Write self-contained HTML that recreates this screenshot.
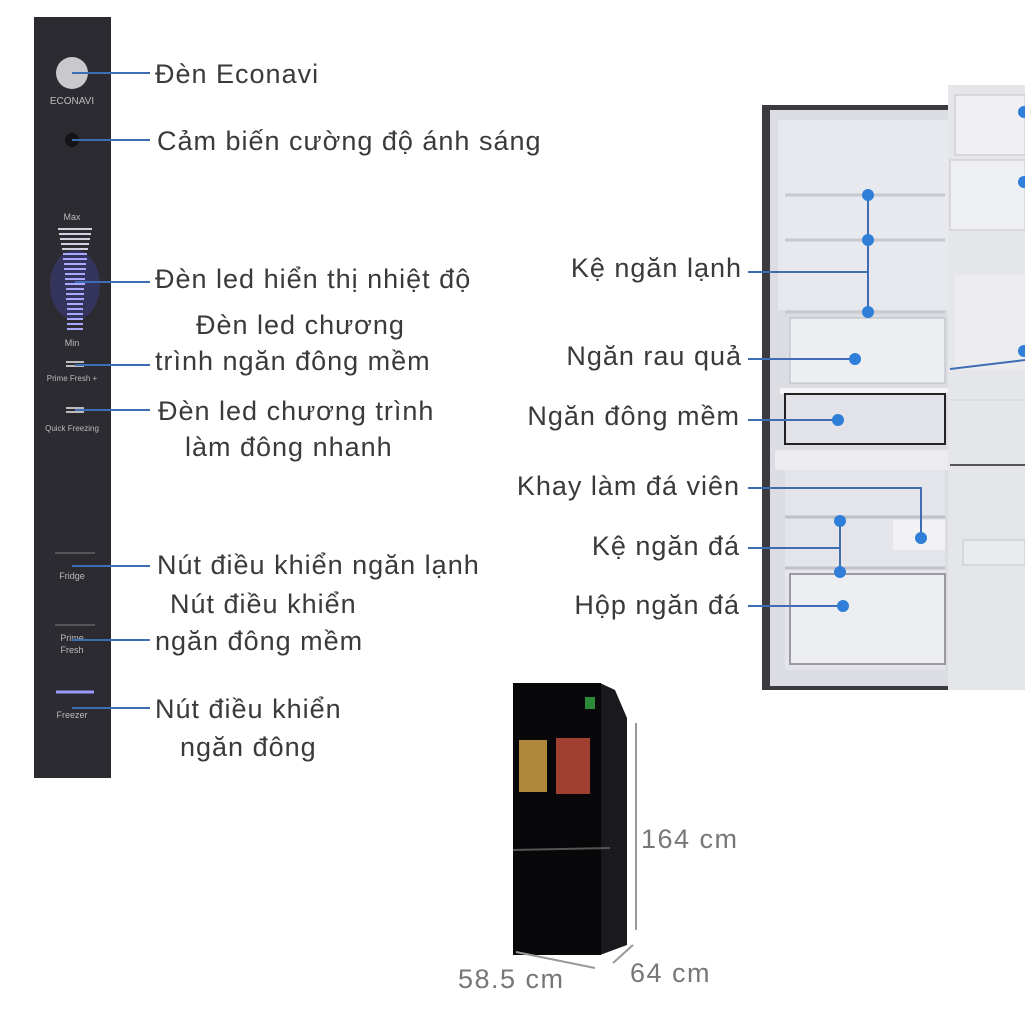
<!DOCTYPE html>
<html><head><meta charset="utf-8"><style>
body{margin:0;background:#fff}
svg{display:block}
text{font-family:"Liberation Sans",sans-serif;fill:#3a3a3a}
.l{font-size:27px;letter-spacing:1px}
.s{font-size:9px;fill:#bbb}
</style></head><body>
<svg width="1025" height="1025" viewBox="0 0 1025 1025">
<rect x="34" y="17" width="77" height="761" fill="#2c2b31"/>
<circle cx="72" cy="73" r="16" fill="#c9c9cc"/>
<text x="72" y="104" class="s" text-anchor="middle" style="font-size:10px">ECONAVI</text>
<circle cx="72" cy="140" r="7" fill="#151518"/>
<text x="72" y="220" class="s" text-anchor="middle">Max</text>
<g stroke="#d0d0e0" stroke-width="2">
<line x1="58" y1="229" x2="92" y2="229"/><line x1="59" y1="234" x2="91" y2="234"/><line x1="60" y1="239" x2="90" y2="239"/><line x1="61" y1="244" x2="89" y2="244"/><line x1="62" y1="249" x2="88" y2="249"/>
</g>
<ellipse cx="75" cy="285" rx="25" ry="35" fill="#3a3a7a" opacity="0.6"/>
<g stroke="#a8a8ff" stroke-width="2">
<line x1="63" y1="254" x2="87" y2="254"/><line x1="63" y1="259" x2="87" y2="259"/><line x1="64" y1="264" x2="86" y2="264"/><line x1="64" y1="269" x2="86" y2="269"/><line x1="65" y1="274" x2="85" y2="274"/><line x1="65" y1="279" x2="85" y2="279"/><line x1="65" y1="284" x2="85" y2="284"/><line x1="66" y1="289" x2="84" y2="289"/><line x1="66" y1="294" x2="84" y2="294"/><line x1="66" y1="299" x2="84" y2="299"/><line x1="67" y1="304" x2="83" y2="304"/><line x1="67" y1="309" x2="83" y2="309"/><line x1="67" y1="314" x2="83" y2="314"/><line x1="67" y1="319" x2="83" y2="319"/><line x1="67" y1="324" x2="83" y2="324"/><line x1="67" y1="329" x2="83" y2="329"/>
</g>
<text x="72" y="346" class="s" text-anchor="middle">Min</text>
<g stroke="#bbb" stroke-width="2"><line x1="66" y1="362" x2="84" y2="362"/><line x1="66" y1="366" x2="84" y2="366"/><line x1="66" y1="408" x2="84" y2="408"/><line x1="66" y1="412" x2="84" y2="412"/>
<line x1="55" y1="553" x2="95" y2="553" stroke="#555"/><line x1="55" y1="625" x2="95" y2="625" stroke="#555"/></g>
<text x="72" y="381" class="s" text-anchor="middle" style="font-size:8px">Prime Fresh +</text>
<text x="72" y="431" class="s" text-anchor="middle" style="font-size:8px">Quick Freezing</text>
<text x="72" y="579" class="s" text-anchor="middle">Fridge</text>
<text x="72" y="641" class="s" text-anchor="middle">Prime</text>
<text x="72" y="653" class="s" text-anchor="middle">Fresh</text>
<line x1="56" y1="692" x2="94" y2="692" stroke="#9a9aff" stroke-width="3"/>
<text x="72" y="718" class="s" text-anchor="middle">Freezer</text>
<g stroke="#3e6db3" stroke-width="2">
<line x1="72" y1="73" x2="150" y2="73"/><line x1="72" y1="140" x2="150" y2="140"/><line x1="75" y1="282" x2="150" y2="282"/><line x1="75" y1="365" x2="150" y2="365"/><line x1="75" y1="410" x2="150" y2="410"/><line x1="72" y1="566" x2="150" y2="566"/><line x1="72" y1="640" x2="150" y2="640"/><line x1="72" y1="708" x2="150" y2="708"/>
</g>
<text x="155" y="83" class="l">Đèn Econavi</text>
<text x="157" y="150" class="l">Cảm biến cường độ ánh sáng</text>
<text x="155" y="288" class="l">Đèn led hiển thị nhiệt độ</text>
<text x="196" y="334" class="l">Đèn led chương</text>
<text x="155" y="370" class="l">trình ngăn đông mềm</text>
<text x="158" y="420" class="l">Đèn led chương trình</text>
<text x="185" y="456" class="l">làm đông nhanh</text>
<text x="157" y="574" class="l">Nút điều khiển ngăn lạnh</text>
<text x="170" y="613" class="l">Nút điều khiển</text>
<text x="155" y="650" class="l">ngăn đông mềm</text>
<text x="155" y="718" class="l">Nút điều khiển</text>
<text x="180" y="756" class="l">ngăn đông</text>
<rect x="762" y="105" width="200" height="585" fill="#3a3a40"/>
<rect x="770" y="110" width="185" height="576" fill="#dcdde2"/>
<rect x="778" y="120" width="170" height="190" fill="#e8e9ee"/>
<g stroke="#c8c9cf" stroke-width="3"><line x1="785" y1="195" x2="945" y2="195"/><line x1="785" y1="240" x2="945" y2="240"/><line x1="785" y1="312" x2="945" y2="312"/></g>
<rect x="790" y="318" width="155" height="65" fill="#eceef2" stroke="#b8b9c0"/>
<rect x="780" y="388" width="170" height="6" fill="#f4f4f6"/>
<rect x="785" y="394" width="160" height="50" fill="#e2e3e8" stroke="#222" stroke-width="2"/>
<rect x="775" y="450" width="178" height="20" fill="#ececf0"/>
<rect x="785" y="470" width="160" height="200" fill="#e4e5ea"/>
<g stroke="#c0c1c7" stroke-width="3"><line x1="785" y1="517" x2="945" y2="517"/><line x1="785" y1="568" x2="945" y2="568"/></g>
<rect x="790" y="574" width="155" height="90" fill="#eceef2" stroke="#9a9aa0" stroke-width="2"/>
<rect x="893" y="520" width="52" height="30" fill="#f2f2f4"/>
<rect x="948" y="85" width="77" height="605" fill="#e5e6ea"/>
<rect x="955" y="95" width="70" height="60" fill="#f0f0f3" stroke="#c5c5ca"/>
<rect x="950" y="160" width="75" height="70" fill="#eeeff2" stroke="#c5c5ca"/>
<rect x="955" y="275" width="70" height="95" fill="#ececef"/>
<line x1="950" y1="400" x2="1025" y2="400" stroke="#cfd0d4"/>
<line x1="950" y1="465" x2="1025" y2="465" stroke="#555" stroke-width="2"/>
<rect x="963" y="540" width="62" height="25" fill="#e9ebef" stroke="#c5c5ca"/>
<g stroke="#3e6db3" stroke-width="2" fill="none">
<line x1="748" y1="272" x2="868" y2="272"/><line x1="868" y1="195" x2="868" y2="312"/>
<line x1="748" y1="359" x2="855" y2="359"/>
<line x1="748" y1="420" x2="838" y2="420"/>
<polyline points="748,488 921,488 921,538"/>
<line x1="748" y1="548" x2="840" y2="548"/><line x1="840" y1="521" x2="840" y2="572"/>
<line x1="748" y1="606" x2="843" y2="606"/>
<line x1="950" y1="369" x2="1025" y2="360"/>
</g>
<g fill="#2f7fd8">
<circle cx="868" cy="195" r="6"/><circle cx="868" cy="240" r="6"/><circle cx="868" cy="312" r="6"/><circle cx="855" cy="359" r="6"/><circle cx="838" cy="420" r="6"/><circle cx="921" cy="538" r="6"/><circle cx="840" cy="521" r="6"/><circle cx="840" cy="572" r="6"/><circle cx="843" cy="606" r="6"/><circle cx="1024" cy="112" r="6"/><circle cx="1024" cy="182" r="6"/><circle cx="1024" cy="351" r="6"/>
</g>
<text x="742" y="277" class="l" text-anchor="end">Kệ ngăn lạnh</text>
<text x="742" y="365" class="l" text-anchor="end">Ngăn rau quả</text>
<text x="740" y="425" class="l" text-anchor="end">Ngăn đông mềm</text>
<text x="740" y="495" class="l" text-anchor="end">Khay làm đá viên</text>
<text x="740" y="555" class="l" text-anchor="end">Kệ ngăn đá</text>
<text x="740" y="614" class="l" text-anchor="end">Hộp ngăn đá</text>
<polygon points="600,683 615,690 627,718 627,945 600,955" fill="#1a1a1e"/>
<rect x="513" y="683" width="88" height="272" fill="#08080a"/>
<line x1="513" y1="850" x2="610" y2="848" stroke="#555" stroke-width="2"/>
<rect x="519" y="740" width="28" height="52" fill="#b0863a"/>
<rect x="556" y="738" width="34" height="56" fill="#a04030"/>
<rect x="585" y="697" width="10" height="12" fill="#2a8a3a"/>
<g stroke="#999" stroke-width="2" fill="#999">
<line x1="636" y1="723" x2="636" y2="930"/>
<line x1="516" y1="952" x2="595" y2="968"/>
<line x1="613" y1="963" x2="633" y2="945"/>
</g>
<text x="641" y="848" style="font-size:27px;letter-spacing:1.5px;fill:#777">164 cm</text>
<text x="458" y="988" style="font-size:27px;letter-spacing:1.5px;fill:#777">58.5 cm</text>
<text x="630" y="982" style="font-size:27px;letter-spacing:1.5px;fill:#777">64 cm</text>
</svg>
</body></html>
